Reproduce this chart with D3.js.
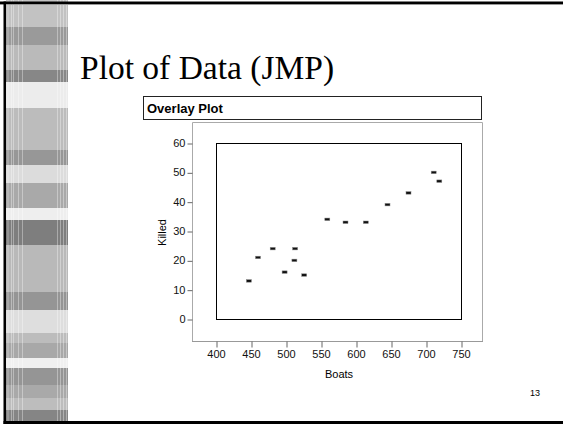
<!DOCTYPE html>
<html><head><meta charset="utf-8">
<script src="https://cdn.jsdelivr.net/npm/d3@7"></script>
<style>body{margin:0;background:#fff}svg{display:block}</style>
</head><body>
<script>
// Data: Florida manatees — boats registered (thousands) vs manatees killed
const boats  = [447, 460, 481, 498, 513, 512, 526, 559, 585, 614, 645, 675, 711, 719];
const killed = [13, 21, 24, 16, 24, 20, 15, 34, 33, 33, 39, 43, 50, 47];
const xTicks = [400, 450, 500, 550, 600, 650, 700, 750];
const yTicks = [0, 10, 20, 30, 40, 50, 60];
const titleText = "Plot of Data (JMP)";
const panelTitle = "Overlay Plot";
const xLabel = "Boats", yLabel = "Killed", pageNo = "13";

// decorative strip bands [y0, y1, colour]
const bands = [[0,27,"#c2c2c2"],[27,45,"#9a9a9a"],[45,70,"#bababa"],[70,82,"#878787"],[82,108,"#ececec"],
 [108,150,"#bcbcbc"],[150,165,"#979797"],[165,183,"#dcdcdc"],[183,208,"#a9a9a9"],[208,220,"#eeeeee"],
 [220,245,"#7e7e7e"],[245,292,"#b9b9b9"],[292,310,"#959595"],[310,333,"#dedede"],[333,343,"#bcbcbc"],
 [343,358,"#a8a8a8"],[358,368,"#f0f0f0"],[368,385,"#959595"],[385,398,"#a9a9a9"],[398,410,"#bdbdbd"],[410,424,"#858585"]];
const stripLines = [8,11.5,13.5,18.5,22.5,57.5,60.5,63.5,66.5];

const W = 563, H = 424;
const svg = d3.select("body").append("svg").attr("width", W).attr("height", H);

// strip
const strip = svg.append("g");
strip.selectAll("rect.band").data(bands).join("rect").attr("class","band")
  .attr("x", 6).attr("width", 62).attr("y", d => d[0]).attr("height", d => d[1]-d[0]).attr("fill", d => d[2]);
strip.selectAll("line").data(stripLines).join("line")
  .attr("x1", d => d).attr("x2", d => d).attr("y1", 0).attr("y2", H)
  .attr("stroke", "#fff").attr("stroke-opacity", 0.35).attr("stroke-width", 1);

// slide frame
svg.append("rect").attr("x", 0).attr("y", 1.5).attr("width", W).attr("height", 2.5).attr("fill", "#000");
svg.append("rect").attr("x", 0).attr("y", 4).attr("width", W).attr("height", 1).attr("fill", "#999");
svg.append("rect").attr("x", 3.5).attr("y", 1.5).attr("width", 2.5).attr("height", H).attr("fill", "#000");
svg.append("rect").attr("x", 3.5).attr("y", 421).attr("width", W).attr("height", 3).attr("fill", "#000");

// title
svg.append("text").attr("x", 80).attr("y", 79).text(titleText)
  .attr("font-family", "Liberation Serif, Times New Roman, serif").attr("font-size", 33.5).attr("fill", "#000");

// panel header
svg.append("rect").attr("x", 143.5).attr("y", 96.5).attr("width", 338).attr("height", 23)
  .attr("fill", "#fff").attr("stroke", "#222").attr("stroke-width", 1);
svg.append("text").attr("x", 147).attr("y", 113).text(panelTitle)
  .attr("font-family", "Liberation Sans, Arial, sans-serif").attr("font-weight", "bold").attr("font-size", 13);

// outer gray frame
svg.append("path").attr("d", "M192.5,341 V122.5 H482.5 V341").attr("fill", "none").attr("stroke", "#aaa").attr("stroke-width", 1);
svg.append("line").attr("x1", 192).attr("x2", 483).attr("y1", 341.5).attr("y2", 341.5).attr("stroke", "#999");

// scales
const x = d3.scaleLinear().domain([400, 750]).range([216, 461]);
const y = d3.scaleLinear().domain([0, 60]).range([319, 143]);

// inner box
svg.append("rect").attr("x", x(400)+0.5).attr("y", y(60)+0.5).attr("width", x(750)-x(400)).attr("height", y(0)-y(60))
  .attr("fill", "none").attr("stroke", "#000").attr("stroke-width", 1);

const font = "Liberation Sans, Arial, sans-serif";
// y axis
const yAx = svg.append("g").attr("transform", "translate(192.5,0)")
  .call(d3.axisLeft(y).tickValues(yTicks).tickSize(5).tickPadding(2));
yAx.select(".domain").remove();
yAx.selectAll("line").attr("stroke", "#666").attr("transform", "translate(0,0.5)");
yAx.selectAll("text").attr("font-family", font).attr("font-size", 11).attr("fill", "#111");

// x axis
const xAx = svg.append("g").attr("transform", "translate(0,341.5)")
  .call(d3.axisBottom(x).tickValues(xTicks).tickSize(6).tickPadding(3));
xAx.select(".domain").remove();
xAx.selectAll("line").attr("stroke", "#666").attr("transform", "translate(0.5,0)");
xAx.selectAll("text").attr("font-family", font).attr("font-size", 11).attr("fill", "#111");

svg.append("text").attr("x", (x(400)+x(750))/2+0.5).attr("y", 378).attr("text-anchor", "middle")
  .text(xLabel).attr("font-family", font).attr("font-size", 11);
svg.append("text").attr("transform", `translate(166,${y(29.5)}) rotate(-90)`).attr("text-anchor", "middle")
  .text(yLabel).attr("font-family", font).attr("font-size", 11);

// points
const pts = boats.map((b, i) => [b, killed[i]]);
svg.append("g").selectAll("rect").data(pts).join("rect")
  .attr("x", d => x(d[0]) - 2.5).attr("y", d => y(d[1]) - 1.2).attr("width", 5).attr("height", 2.5)
  .attr("fill", "#111").attr("stroke", "#888").attr("stroke-width", 0.5);

// page number
svg.append("text").attr("x", 530).attr("y", 396).text(pageNo).attr("font-family", font).attr("font-size", 9);
</script>
</body></html>
